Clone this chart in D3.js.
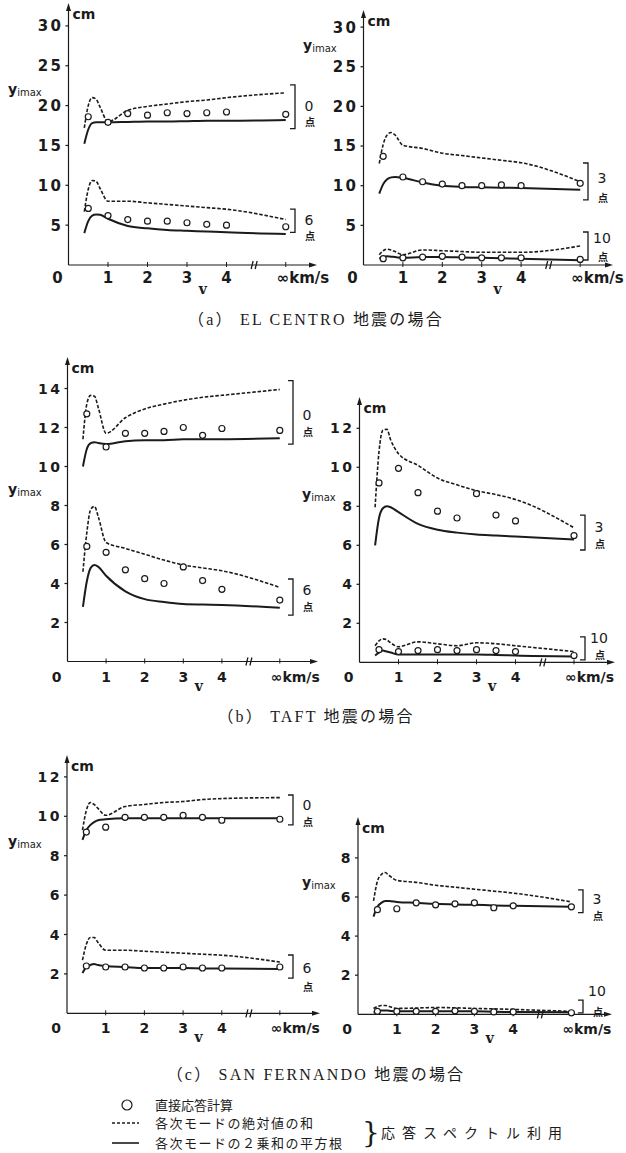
<!DOCTYPE html>
<html>
<head>
<meta charset="utf-8">
<script src="https://cdn.jsdelivr.net/npm/d3@7"></script>
<style>
  body { margin: 0; background: #fff; }
  svg { display: block; }
</style>
</head>
<body>
<svg id="chart" width="626" height="1153"></svg>
<script>
// velocity grid (km/s); the "∞" column is drawn at 5.5
var vLine  = [0.4, 0.5, 0.6, 0.7, 0.8, 1.0, 1.5, 2, 2.5, 3, 3.5, 4, 5.5];
var vPoint = [0.5, 1, 1.5, 2, 2.5, 3, 3.5, 4, 5.5];
var xTicks = [1, 2, 3, 4];
var xInf = 5.5;

// (a) EL CENTRO  -- Abs: sum of absolute values, Srss: square root of sum of squares, Direct: direct response
var elc0Abs    = [17.2, 20.0, 21.0, 20.8, 19.8, 18.0, 19.4, 19.9, 20.2, 20.5, 20.7, 21.0, 21.6];
var elc0Srss   = [15.2, 17.0, 17.8, 17.9, 17.9, 17.9, 17.95, 18.0, 18.0, 18.05, 18.1, 18.1, 18.2];
var elc0Direct = [18.6, 17.9, 19.0, 18.8, 19.1, 19.0, 19.1, 19.2, 18.9];
var elc6Abs    = [6.7, 9.5, 10.6, 10.5, 9.6, 8.0, 8.0, 7.8, 7.6, 7.4, 7.2, 7.0, 5.7];
var elc6Srss   = [4.0, 5.5, 6.2, 6.35, 6.3, 5.8, 4.9, 4.6, 4.4, 4.3, 4.2, 4.1, 3.9];
var elc6Direct = [7.1, 6.2, 5.7, 5.5, 5.5, 5.3, 5.1, 5.0, 4.8];
var elc3Abs    = [12.8, 15.2, 16.4, 16.7, 16.4, 15.1, 14.7, 14.1, 13.8, 13.5, 13.2, 12.9, 10.5];
var elc3Srss   = [9.0, 10.2, 10.8, 11.05, 11.1, 11.0, 10.4, 10.0, 9.85, 9.8, 9.75, 9.7, 9.5];
var elc3Direct = [13.7, 11.1, 10.5, 10.2, 10.0, 10.0, 10.1, 10.0, 10.3];
var elc10Abs    = [1.3, 1.8, 2.0, 1.9, 1.7, 1.3, 1.9, 1.8, 1.7, 1.6, 1.6, 1.6, 2.4];
var elc10Srss   = [0.8, 1.0, 1.1, 1.05, 1.0, 0.9, 1.0, 1.0, 0.95, 0.9, 0.85, 0.8, 0.6];
var elc10Direct = [0.8, 0.9, 1.0, 1.1, 1.0, 0.9, 0.9, 0.9, 0.7];

// (b) TAFT
var taft0Abs    = [11.4, 13.2, 13.65, 13.6, 13.0, 11.7, 12.5, 12.95, 13.2, 13.4, 13.55, 13.65, 13.95];
var taft0Srss   = [10.0, 10.9, 11.2, 11.25, 11.2, 11.15, 11.3, 11.35, 11.35, 11.4, 11.4, 11.4, 11.45];
var taft0Direct = [12.7, 11.0, 11.7, 11.7, 11.8, 12.0, 11.6, 11.95, 11.85];
var taft6Abs    = [4.6, 6.6, 7.8, 7.95, 7.4, 6.1, 5.8, 5.5, 5.2, 4.95, 4.8, 4.65, 3.8];
var taft6Srss   = [2.8, 4.1, 4.8, 4.95, 4.85, 4.4, 3.6, 3.2, 3.05, 2.95, 2.92, 2.9, 2.75];
var taft6Direct = [5.9, 5.6, 4.7, 4.25, 4.0, 4.85, 4.15, 3.7, 3.15];
var taft3Abs    = [7.95, 10.8, 11.9, 11.95, 11.4, 10.7, 10.1, 9.45, 9.1, 8.8, 8.6, 8.35, 6.9];
var taft3Srss   = [6.0, 7.4, 7.9, 8.0, 7.95, 7.7, 7.1, 6.8, 6.65, 6.55, 6.5, 6.45, 6.3];
var taft3Direct = [9.2, 9.95, 8.7, 7.75, 7.4, 8.65, 7.55, 7.25, 6.5];
var taft10Abs    = [0.85, 1.1, 1.2, 1.15, 1.0, 0.8, 1.05, 0.95, 0.85, 1.0, 0.95, 0.85, 0.55];
var taft10Srss   = [0.35, 0.5, 0.6, 0.55, 0.5, 0.4, 0.4, 0.4, 0.4, 0.4, 0.38, 0.35, 0.3];
var taft10Direct = [0.65, 0.55, 0.6, 0.65, 0.6, 0.65, 0.6, 0.55, 0.35];

// (c) SAN FERNANDO
var sf0Abs    = [9.3, 10.3, 10.7, 10.6, 10.4, 10.05, 10.5, 10.6, 10.7, 10.75, 10.85, 10.9, 10.95];
var sf0Srss   = [8.8, 9.3, 9.55, 9.7, 9.8, 9.85, 9.9, 9.9, 9.9, 9.9, 9.9, 9.9, 9.9];
var sf0Direct = [9.2, 9.45, 9.95, 9.95, 9.95, 10.05, 9.95, 9.8, 9.85];
var sf6Abs    = [2.7, 3.5, 3.85, 3.85, 3.6, 3.2, 3.2, 3.15, 3.1, 3.05, 3.0, 2.95, 2.6];
var sf6Srss   = [2.05, 2.35, 2.45, 2.5, 2.45, 2.4, 2.35, 2.3, 2.3, 2.3, 2.28, 2.27, 2.25];
var sf6Direct = [2.4, 2.35, 2.35, 2.3, 2.3, 2.35, 2.3, 2.3, 2.35];
var sf3Abs    = [5.8, 6.8, 7.15, 7.25, 7.1, 6.85, 6.75, 6.6, 6.5, 6.4, 6.3, 6.2, 5.75];
var sf3Srss   = [5.0, 5.5, 5.7, 5.8, 5.8, 5.75, 5.7, 5.65, 5.62, 5.6, 5.57, 5.55, 5.5];
var sf3Direct = [5.35, 5.4, 5.7, 5.6, 5.65, 5.7, 5.45, 5.55, 5.5];
var sf10Abs    = [0.3, 0.4, 0.45, 0.45, 0.4, 0.3, 0.32, 0.35, 0.33, 0.3, 0.28, 0.25, 0.15];
var sf10Srss   = [0.1, 0.15, 0.2, 0.2, 0.18, 0.15, 0.15, 0.15, 0.15, 0.15, 0.13, 0.12, 0.1];
var sf10Direct = [0.15, 0.15, 0.15, 0.15, 0.18, 0.15, 0.12, 0.12, 0.08];

var yTicksA  = [5, 10, 15, 20, 25, 30];
var yTicksB1 = [2, 4, 6, 8, 10, 12, 14];
var yTicksB2 = [2, 4, 6, 8, 10, 12];
var yTicksC1 = [2, 4, 6, 8, 10, 12];
var yTicksC2 = [2, 4, 6, 8];

var captions = ["（a） EL CENTRO 地震の場合", "（b） TAFT 地震の場合", "（c） SAN FERNANDO 地震の場合"];
var legendItems = ["直接応答計算", "各次モードの絶対値の和", "各次モードの２乗和の平方根"];
var legendNote = "応答スペクトル利用";

var ink = "#1b1b1b";
var sans = "'DejaVu Sans', 'Liberation Sans', sans-serif";
var serif = "'Liberation Serif', 'DejaVu Serif', 'Noto Sans CJK JP', serif";
var cjk = "'Noto Sans CJK JP', sans-serif";

var svg = d3.select("#chart");

// panel layout (pixels)
var panels = [
    {ox: 68.5, oy: 265, ux: 39.5, uy: 7.97, top: 3, xEnd: 317, yTicks: yTicksA, fs: 15, ylabY: 94, ylabX: 8, bx: 295,
     sets: [[elc0Abs, elc0Srss, elc0Direct], [elc6Abs, elc6Srss, elc6Direct]],
     brackets: [{n: "0", hi: 22.6, lo: 17.1, ny: 21, py: 37}, {n: "6", hi: 7.0, lo: 4.1, ny: 11, py: 27}]},
    {ox: 363.5, oy: 265, ux: 39.4, uy: 7.93, top: 10, xEnd: 613, yTicks: yTicksA, fs: 15, ylabY: 50, ylabX: 303, bx: 588,
     sets: [[elc3Abs, elc3Srss, elc3Direct], [elc10Abs, elc10Srss, elc10Direct]],
     brackets: [{n: "3", hi: 12.86, lo: 8.2, ny: 15, py: 35}, {n: "10", hi: 4.16, lo: 0.63, ny: 6, py: 25}]},
    {ox: 67.5, oy: 661.5, ux: 38.6, uy: 19.5, top: 357, xEnd: 318, yTicks: yTicksB1, fs: 14, ylabY: 494, ylabX: 8, bx: 293,
     sets: [[taft0Abs, taft0Srss, taft0Direct], [taft6Abs, taft6Srss, taft6Direct]],
     brackets: [{n: "0", hi: 14.4, lo: 11.15, ny: 34, py: 51}, {n: "6", hi: 4.23, lo: 2.38, ny: 11, py: 28}]},
    {ox: 359.5, oy: 662.3, ux: 39, uy: 19.5, top: 397, xEnd: 615, yTicks: yTicksB2, fs: 14, ylabY: 499, ylabX: 302, bx: 585,
     sets: [[taft3Abs, taft3Srss, taft3Direct], [taft10Abs, taft10Srss, taft10Direct]],
     brackets: [{n: "3", hi: 7.55, lo: 5.76, ny: 12, py: 29}, {n: "10", hi: 1.3, lo: 0.12, ny: 1, py: 18}]},
    {ox: 67, oy: 1013.3, ux: 38.7, uy: 19.7, top: 755, xEnd: 320, yTicks: yTicksC1, fs: 14, ylabY: 846, ylabX: 8, bx: 293,
     sets: [[sf0Abs, sf0Srss, sf0Direct], [sf6Abs, sf6Srss, sf6Direct]],
     brackets: [{n: "0", hi: 11.08, lo: 9.56, ny: 10, py: 27}, {n: "6", hi: 2.96, lo: 1.79, ny: 13, py: 32}]},
    {ox: 358, oy: 1014.3, ux: 38.8, uy: 19.55, top: 817, xEnd: 612, yTicks: yTicksC2, fs: 14, ylabY: 887, ylabX: 302, bx: 583,
     sets: [[sf3Abs, sf3Srss, sf3Direct], [sf10Abs, sf10Srss, sf10Direct]],
     brackets: [{n: "3", hi: 6.36, lo: 5.2, ny: 9, py: 26}, {n: "10", hi: 0.73, lo: 0.07, ny: -9, py: 12}]}
];

function drawPanel(p) {
    var g = svg.append("g");
    var x = d3.scaleLinear().domain([0, xInf]).range([p.ox, p.ox + xInf * p.ux]);
    var yMax = (p.oy - p.top) / p.uy;
    var y = d3.scaleLinear().domain([0, yMax]).range([p.oy, p.top]);

    // axes
    g.append("line").attr("x1", p.ox).attr("x2", p.ox).attr("y1", p.oy).attr("y2", p.top + 4)
        .attr("stroke", ink).attr("stroke-width", 1.2);
    g.append("path").attr("d", "M" + p.ox + "," + p.top + "l-2.5,8h5z").attr("fill", ink);
    g.append("line").attr("x1", p.ox).attr("x2", p.xEnd - 4).attr("y1", p.oy).attr("y2", p.oy)
        .attr("stroke", ink).attr("stroke-width", 1.2);
    g.append("path").attr("d", "M" + p.xEnd + "," + p.oy + "l-8,-2.5v5z").attr("fill", ink);

    // axis break between 4 and ∞
    var xb = x(4.7);
    g.append("path")
        .attr("d", "M" + (xb - 3) + "," + (p.oy + 4) + "l2,-8M" + (xb + 1) + "," + (p.oy + 4) + "l2,-8")
        .attr("stroke", ink).attr("stroke-width", 1.3).attr("fill", "none");

    // y ticks
    g.selectAll(".yt").data(p.yTicks).enter().append("line")
        .attr("x1", p.ox - 3).attr("x2", p.ox)
        .attr("y1", function(d) { return y(d); }).attr("y2", function(d) { return y(d); })
        .attr("stroke", ink).attr("stroke-width", 1.2);
    g.selectAll(".ytl").data(p.yTicks).enter().append("text")
        .attr("x", p.ox - 5).attr("y", function(d) { return y(d) + p.fs * 0.36; })
        .attr("text-anchor", "end")
        .attr("font-family", sans).attr("font-size", p.fs).attr("font-weight", "bold")
        .attr("letter-spacing", 2.5).attr("fill", ink)
        .text(function(d) { return d; });

    // x ticks
    var xt = xTicks.concat([xInf]);
    g.selectAll(".xt").data(xt).enter().append("line")
        .attr("x1", function(d) { return x(d); }).attr("x2", function(d) { return x(d); })
        .attr("y1", p.oy - 3).attr("y2", p.oy + 2)
        .attr("stroke", ink).attr("stroke-width", 1);
    var ly = p.oy + 18 + (p.fs === 14 ? 2 : 0);
    g.selectAll(".xtl").data(xTicks).enter().append("text")
        .attr("x", function(d) { return x(d); }).attr("y", ly)
        .attr("text-anchor", "middle")
        .attr("font-family", sans).attr("font-size", p.fs).attr("font-weight", "bold").attr("fill", ink)
        .text(function(d) { return d; });
    g.append("text").attr("x", p.ox - 11).attr("y", ly).attr("text-anchor", "middle")
        .attr("font-family", sans).attr("font-size", p.fs).attr("font-weight", "bold").attr("fill", ink)
        .text("0");
    g.append("text").attr("x", x(xInf) - 9).attr("y", ly)
        .attr("font-family", sans).attr("font-size", p.fs).attr("font-weight", "bold").attr("fill", ink)
        .text("∞km/s");
    g.append("text").attr("x", x(3.4)).attr("y", p.oy + 29).attr("text-anchor", "middle")
        .attr("font-family", "'DejaVu Serif', serif").attr("font-size", 14).attr("font-weight", "bold").attr("fill", ink)
        .text("v");

    // unit and y label
    g.append("text").attr("x", p.ox + 4).attr("y", p.top + 16)
        .attr("font-family", sans).attr("font-size", 14).attr("font-weight", "bold").attr("fill", ink)
        .text("cm");
    var yl = g.append("text").attr("x", p.ylabX).attr("y", p.ylabY)
        .attr("font-family", sans).attr("font-size", 14).attr("fill", ink);
    yl.append("tspan").attr("font-weight", "bold").text("y");
    yl.append("tspan").attr("font-size", 10).attr("dy", 2).text("imax");

    // curves
    var line = d3.line()
        .x(function(d) { return x(d[0]); })
        .y(function(d) { return y(d[1]); })
        .curve(d3.curveMonotoneX);

    p.sets.forEach(function(s) {
        g.append("path").datum(d3.zip(vLine, s[0]))
            .attr("d", line).attr("fill", "none").attr("stroke", ink)
            .attr("stroke-width", 1.6).attr("stroke-dasharray", "3.5,1.8");
        g.append("path").datum(d3.zip(vLine, s[1]))
            .attr("d", line).attr("fill", "none").attr("stroke", ink)
            .attr("stroke-width", 2);
        g.selectAll(null).data(d3.zip(vPoint, s[2])).enter().append("circle")
            .attr("cx", function(d) { return x(d[0]); })
            .attr("cy", function(d) { return y(d[1]); })
            .attr("r", 3).attr("fill", "#fff").attr("stroke", ink).attr("stroke-width", 1.2);
    });

    // node brackets
    p.brackets.forEach(function(b) {
        var y1 = y(b.hi), y2 = y(b.lo);
        g.append("path")
            .attr("d", "M" + (p.bx - 5) + "," + y1 + "H" + p.bx + "V" + y2 + "H" + (p.bx - 5))
            .attr("fill", "none").attr("stroke", ink).attr("stroke-width", 1.3);
        g.append("text").attr("x", p.bx + 14).attr("y", y1 + b.ny + 5)
            .attr("text-anchor", "middle")
            .attr("font-family", sans).attr("font-size", 14).attr("fill", ink).text(b.n);
        g.append("text").attr("x", p.bx + 15).attr("y", y1 + b.py + 4)
            .attr("text-anchor", "middle")
            .attr("font-family", cjk).attr("font-size", 10).attr("font-weight", "bold").attr("fill", ink).text("点");
    });
}

panels.forEach(drawPanel);

// captions
var capY = [325, 722, 1080];
svg.selectAll(".cap").data(captions).enter().append("text")
    .attr("x", 316).attr("y", function(d, i) { return capY[i]; })
    .attr("text-anchor", "middle")
    .attr("font-family", serif).attr("font-size", 16).attr("letter-spacing", 2.2).attr("fill", ink)
    .text(function(d) { return d; });

// legend
var legY = [1105, 1123, 1143];
var leg = svg.append("g");
leg.append("circle").attr("cx", 127).attr("cy", legY[0]).attr("r", 5)
    .attr("fill", "none").attr("stroke", ink).attr("stroke-width", 1.2);
leg.append("line").attr("x1", 112).attr("x2", 139).attr("y1", legY[1]).attr("y2", legY[1])
    .attr("stroke", ink).attr("stroke-width", 1.3).attr("stroke-dasharray", "3,2");
leg.append("line").attr("x1", 112).attr("x2", 139).attr("y1", legY[2]).attr("y2", legY[2])
    .attr("stroke", ink).attr("stroke-width", 1.6);
leg.selectAll(".lt").data(legendItems).enter().append("text")
    .attr("x", 155).attr("y", function(d, i) { return legY[i] + 5; })
    .attr("font-family", cjk).attr("font-size", 13)
    .attr("letter-spacing", function(d, i) { return i === 0 ? 0 : 1.5; })
    .attr("fill", ink)
    .text(function(d) { return d; });
leg.append("text").attr("x", 362).attr("y", 1142)
    .attr("font-family", "'DejaVu Serif', serif").attr("font-size", 28)
    .attr("fill", ink).text("}");
leg.append("text").attr("x", 381).attr("y", 1138)
    .attr("font-family", cjk).attr("font-size", 14).attr("letter-spacing", 7).attr("fill", ink)
    .text(legendNote);
</script>
</body>
</html>
